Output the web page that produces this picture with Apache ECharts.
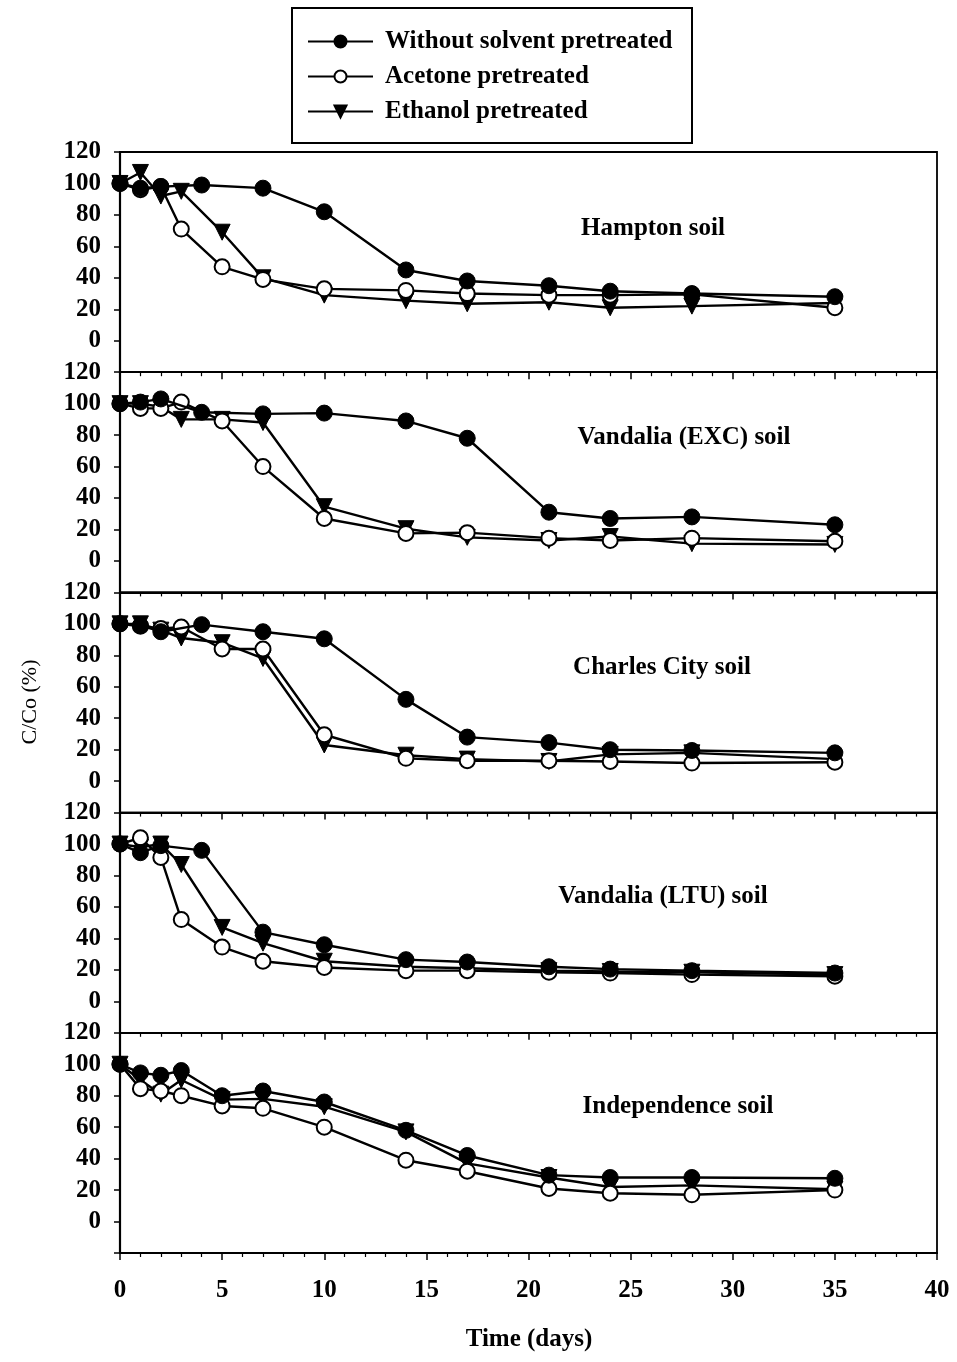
<!DOCTYPE html>
<html>
<head>
<meta charset="utf-8">
<script src="https://cdn.jsdelivr.net/npm/echarts@6/dist/echarts.min.js"></script>
<style>
  html, body { margin: 0; padding: 0; background: #fff; }
  #chart { width: 957px; height: 1362px; }
</style>
</head>
<body>
<div id="chart"></div>
<script>
// Sampling days (untreated soils were sampled on day 4 instead of days 3 and 5)
const daysSolvent = [0, 1, 2, 3, 5, 7, 10, 14, 17, 21, 24, 28, 35];
const daysWithout = [0, 1, 2, 4, 7, 10, 14, 17, 21, 24, 28, 35];

const seriesNames = ['Without solvent pretreated', 'Acetone pretreated', 'Ethanol pretreated'];
const soilNames = ['Hampton soil', 'Vandalia (EXC) soil', 'Charles City soil', 'Vandalia (LTU) soil', 'Independence soil'];

// C/Co (%) per soil
const hamptonWithout  = [100, 97, 98, 99, 97, 82, 45, 38, 35, 31.5, 30, 28];
const hamptonAcetone  = [100, 96, 98, 71, 47, 39, 33, 32, 30, 29, 29, 29.5, 21];
const hamptonEthanol  = [100, 107, 92, 95, 69, 40, 29, 25.5, 23.5, 24.5, 21, 22, 24];

const excWithout = [100, 101, 103, 94.5, 93.5, 94, 89, 78, 31, 27, 28, 23];
const excAcetone = [100, 97, 97, 101, 89, 60, 27, 17.5, 18, 14.5, 13, 14.5, 12.5];
const excEthanol = [100, 100, 98, 90, 90, 88, 34.5, 20.5, 15, 13, 15.5, 11, 10.5];

const charlesWithout = [100, 99, 95, 99.5, 95, 90.5, 52, 28, 24.5, 20, 19.5, 18];
const charlesAcetone = [100, 98.5, 97, 98, 84, 84, 29.5, 14.5, 13, 13, 12.5, 11.5, 12];
const charlesEthanol = [100, 100, 96, 91, 88, 78, 23, 16.5, 14, 12.5, 17, 18, 14];

const ltuWithout = [100, 94.5, 99, 96, 44, 36, 26.5, 25, 22, 20.5, 19.5, 18];
const ltuAcetone = [100, 104, 91.5, 52, 34.5, 25.5, 21.5, 19.5, 19.5, 18.5, 18, 17, 16];
const ltuEthanol = [100, 98, 100, 87, 47, 37, 25.5, 22, 21, 19.5, 19, 18.5, 17];

const indepWithout = [100, 94.5, 93, 96, 80, 83, 76, 58, 42, 29.5, 28, 28, 27.5];
const indepAcetone = [100, 84.5, 83, 80, 73.5, 72, 60, 39, 32, 21, 18, 17, 20];
const indepEthanol = [100, 90, 81, 90, 77.5, 78, 73, 57, 37, 28, 22, 23, 20.5];

// [days, values] for each treatment in each soil
const panels = [
  [[daysWithout, hamptonWithout], [daysSolvent, hamptonAcetone], [daysSolvent, hamptonEthanol]],
  [[daysWithout, excWithout], [daysSolvent, excAcetone], [daysSolvent, excEthanol]],
  [[daysWithout, charlesWithout], [daysSolvent, charlesAcetone], [daysSolvent, charlesEthanol]],
  [[daysWithout, ltuWithout], [daysSolvent, ltuAcetone], [daysSolvent, ltuEthanol]],
  [[daysSolvent, indepWithout], [daysSolvent, indepAcetone], [daysSolvent, indepEthanol]]
];

const FONT = '"Liberation Serif", "DejaVu Serif", serif';
const PLOT_LEFT = 120, PLOT_RIGHT = 20, PLOT_TOP = 152, PANEL_H = 220.2;

const markerStyles = [
  { symbol: 'circle', symbolSize: 16, symbolRotate: 0, itemStyle: { color: '#000', borderColor: '#000', borderWidth: 1 } },
  { symbol: 'circle', symbolSize: 15, symbolRotate: 0, itemStyle: { color: '#fff', borderColor: '#000', borderWidth: 2 } },
  { symbol: 'triangle', symbolSize: 16, symbolRotate: 180, itemStyle: { color: '#000', borderColor: '#000', borderWidth: 1 } }
];

const grids = [], xAxes = [], yAxes = [], series = [];
soilNames.forEach((soil, i) => {
  const last = i === soilNames.length - 1;
  grids.push({
    left: PLOT_LEFT, right: PLOT_RIGHT, top: PLOT_TOP + i * PANEL_H, height: PANEL_H,
    show: true, borderColor: '#000', borderWidth: 1.8, backgroundColor: 'transparent'
  });
  xAxes.push({
    type: 'value', gridIndex: i, min: 0, max: 40, interval: 5,
    axisLine: { show: true, onZero: false, lineStyle: { color: '#000', width: 2.2 } },
    axisTick: { show: true, inside: false, length: 7, lineStyle: { color: '#000', width: 1.5 } },
    minorTick: { show: true, splitNumber: 5, length: 4, lineStyle: { color: '#000', width: 1.2 } },
    splitLine: { show: false },
    axisLabel: { show: last, margin: 25, color: '#000', fontFamily: FONT, fontSize: 25, fontWeight: 'bold' }
  });
  yAxes.push({
    type: 'value', gridIndex: i, min: -20, max: 120, interval: 20,
    axisLine: { show: true, onZero: false, lineStyle: { color: '#000', width: 2.2 } },
    axisTick: { show: true, inside: false, length: 6, lineStyle: { color: '#000', width: 1.5 } },
    splitLine: { show: false },
    axisLabel: {
      margin: 19, color: '#000', fontFamily: FONT, fontSize: 25, fontWeight: 'bold',
      formatter: v => (v < 0 ? '' : String(v))
    }
  });
  panels[i].forEach(([days, vals], s) => {
    const m = markerStyles[s];
    series.push({
      name: seriesNames[s], type: 'line', xAxisIndex: i, yAxisIndex: i,
      data: days.map((d, k) => [d, vals[k]]),
      symbol: m.symbol, symbolSize: m.symbolSize, symbolRotate: m.symbolRotate,
      showAllSymbol: true, clip: false, animation: false,
      lineStyle: { color: '#000', width: 2.4 },
      itemStyle: m.itemStyle,
      z: 3 + (2 - s)
    });
  });
});

const titlePos = [[653, 229], [684, 438], [662, 668], [663, 897], [678, 1107]];

const chart = echarts.init(document.getElementById('chart'), null, { renderer: 'canvas' });
chart.setOption({
  backgroundColor: '#fff',
  animation: false,
  legend: {
    data: seriesNames, orient: 'vertical', left: 307, top: 29, padding: 0,
    itemWidth: 65, itemHeight: 15, itemGap: 10, selectedMode: false,
    textStyle: { color: '#000', fontFamily: FONT, fontSize: 25, fontWeight: 'bold', padding: [0, 0, 0, 7] }
  },
  grid: grids, xAxis: xAxes, yAxis: yAxes, series: series,
  graphic: [
    { type: 'rect', shape: { x: 292, y: 8, width: 400, height: 135 },
      style: { fill: 'none', stroke: '#000', lineWidth: 2 } },
    ...soilNames.map((t, i) => ({
      type: 'text', x: titlePos[i][0], y: titlePos[i][1],
      style: { text: t, fill: '#000', font: 'bold 25px ' + FONT, textAlign: 'center', textVerticalAlign: 'middle' }
    })),
    { type: 'text', x: 30, y: 702, rotation: Math.PI / 2,
      style: { text: 'C/Co (%)', fill: '#000', font: '22px ' + FONT, textAlign: 'center', textVerticalAlign: 'middle' } },
    { type: 'text', x: 529, y: 1340,
      style: { text: 'Time (days)', fill: '#000', font: 'bold 25px ' + FONT, textAlign: 'center', textVerticalAlign: 'middle' } }
  ]
});
</script>
</body>
</html>
